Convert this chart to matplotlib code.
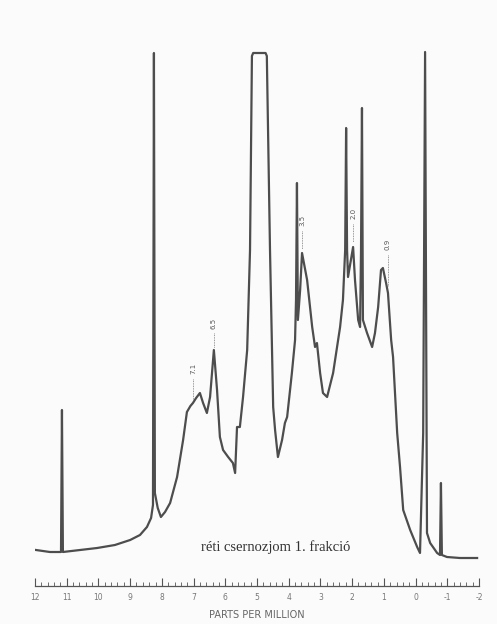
import numpy as np
import matplotlib
matplotlib.use("Agg")
import matplotlib.pyplot as plt

# trace: chemical shift (ppm) and pen height (arbitrary units)
ppm = [11.97, 11.53, 11.18, 11.15, 11.12, 10.58, 10.04, 9.48, 9.00, 8.69,
       8.47, 8.34, 8.28, 8.25, 8.22, 8.13, 8.03, 7.90, 7.74, 7.52,
       7.33, 7.21, 7.10, 7.02, 6.92, 6.80, 6.70, 6.58, 6.48, 6.36,
       6.26, 6.17, 6.07, 5.91, 5.76, 5.69, 5.63, 5.54, 5.44, 5.31,
       5.22, 5.16, 5.12, 4.73, 4.69, 4.59, 4.49, 4.43, 4.34, 4.21,
       4.12, 4.05, 3.90, 3.80, 3.77, 3.74, 3.71, 3.64, 3.58, 3.42,
       3.26, 3.17, 3.11, 3.01, 2.92, 2.79, 2.60, 2.38, 2.29, 2.22,
       2.19, 2.16, 2.13, 1.97, 1.91, 1.81, 1.75, 1.72, 1.69, 1.66,
       1.53, 1.37, 1.28, 1.18, 1.09, 1.03, 0.93, 0.87, 0.77, 0.71,
       0.58, 0.49, 0.39, 0.17, -0.05, -0.14, -0.24, -0.30, -0.36, -0.46,
       -0.68, -0.77, -0.80, -0.83, -0.99, -1.40, -1.94]
height = [36, 34, 34, 176, 34, 36, 38, 41, 46, 51,
          59, 68, 81, 533, 93, 78, 69, 74, 83, 109,
          146, 174, 180, 183, 188, 193, 183, 173, 189, 236,
          196, 149, 136, 129, 123, 113, 159, 159, 189, 236,
          336, 530, 533, 533, 530, 336, 179, 156, 129, 146,
          163, 169, 213, 246, 286, 403, 266, 296, 333, 306,
          259, 239, 243, 213, 193, 189, 213, 259, 286, 336,
          458, 336, 309, 339, 306, 266, 259, 336, 478, 266,
          253, 239, 253, 279, 316, 318, 303, 293, 246, 229,
          153, 119, 76, 56, 39, 33, 153, 534, 53, 43,
          33, 31, 103, 31, 29, 28, 28]

# peak labels: text, position, label height, leader line start/end
peak_text = ["7.1", "6.5", "3.5", "2.0", "0.9"]
peak_ppm = [7.02, 6.36, 3.58, 1.97, 0.87]
peak_label_h = [218, 263, 366, 373, 342]
peak_lead_top = [207, 253, 355, 362, 331]
peak_lead_bot = [186, 238, 337, 344, 300]

tick_vals = list(range(12, -3, -1))
tick_text = [str(v) for v in tick_vals]

fig = plt.figure(figsize=(4.97, 6.24), dpi=100, facecolor="#fbfbfb")
ax = fig.add_axes([35 / 497, 38 / 624, 444 / 497, 546 / 624])
ax.set_facecolor("#fbfbfb")

ax.plot(ppm, height, color="#4d4d4d", lw=1.6, solid_joinstyle="round")

for t, p, h, a, b in zip(peak_text, peak_ppm, peak_label_h, peak_lead_top, peak_lead_bot):
    ax.plot([p, p], [a, b], color="#777777", lw=0.6, ls=(0, (1, 1)))
    ax.text(p, h, t, rotation=90, ha="center", va="center", fontsize=5,
            color="#555555")

ax.text(4.40, 39, "réti csernozjom 1. frakció", ha="center", va="center",
        fontsize=10.5, family="Liberation Serif", color="#333333")

ax.set_xlim(12, -2)
ax.set_ylim(0, 546)
for s in ["top", "left", "right"]:
    ax.spines[s].set_visible(False)
ax.spines["bottom"].set_color("#555555")
ax.spines["bottom"].set_linewidth(0.9)
ax.set_yticks([])
ax.set_xticks(tick_vals)
ax.set_xticklabels(tick_text)
ax.set_xticks(np.arange(-2, 12.01, 0.2), minor=True)
ax.tick_params(axis="x", which="major", direction="in", length=6, width=0.8,
               color="#555555", labelsize=5.5, labelcolor="#777777", pad=5)
ax.tick_params(axis="x", which="minor", direction="in", length=3, width=0.6,
               color="#555555")
ax.set_xlabel("PARTS PER MILLION", fontsize=7, color="#666666", labelpad=6)

fig.savefig("out.png", dpi=100, facecolor=fig.get_facecolor())
